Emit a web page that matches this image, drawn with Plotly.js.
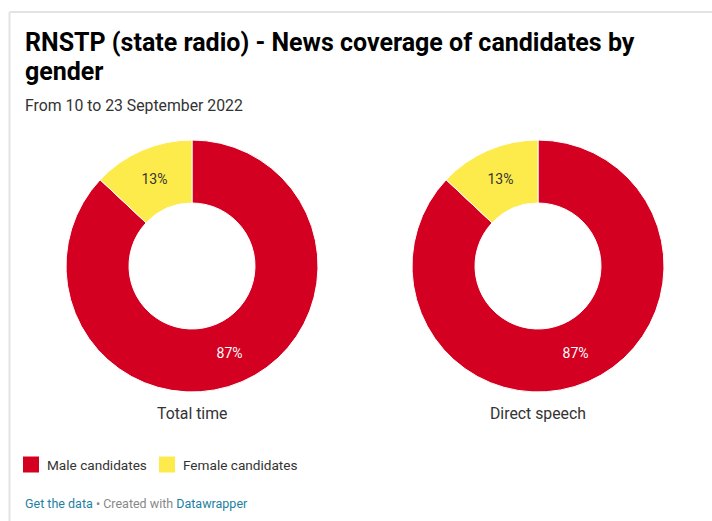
<!DOCTYPE html>
<html>
<head>
<meta charset="utf-8">
<script src="https://cdn.plot.ly/plotly-3.0.1.min.js"></script>
<style>
html,body{margin:0;padding:0;background:#fff;}
#chart{width:712px;height:521px;}
</style>
</head>
<body>
<div id="chart"></div>
<script>
// ---- data ----
var categories = ['Male candidates', 'Female candidates'];
var totalTime = [87, 13];
var directSpeech = [87, 13];
var chartNames = ['Total time', 'Direct speech'];
var titleLines = ['RNSTP (state radio) - News coverage of candidates by', 'gender'];
var subtitle = 'From 10 to 23 September 2022';

// ---- helpers (pixel -> paper) ----
var W = 712, H = 521;
function px(x){ return x / W; }
function py(y){ return 1 - y / H; }

var colors = ['#d40021', '#fdeb4b'];
var textColors = ['#ffffff', '#333333'];

function donut(values, cx, name){
  var r = 126, cy = 266;
  return {
    type: 'pie',
    name: name,
    labels: categories,
    values: values,
    sort: false,
    direction: 'clockwise',
    rotation: 0,
    hole: 0.5,
    marker: {colors: colors, line: {color: '#ffffff', width: 1}},
    textinfo: 'percent',
    texttemplate: '%{percent:.0%}',
    textposition: 'inside',
    insidetextorientation: 'horizontal',
    textfont: {family: 'Roboto, sans-serif', size: 14, color: textColors},
    showlegend: false,
    hoverinfo: 'none',
    domain: {x: [px(cx - r), px(cx + r)], y: [py(cy + r), py(cy - r)]}
  };
}

var data = [
  donut(totalTime, 192, chartNames[0]),
  donut(directSpeech, 538, chartNames[1])
];

var font = 'Roboto, sans-serif';
var annotations = [
  {text: '<b>' + titleLines[0] + '</b>', x: px(23), y: py(42), xanchor: 'left', yanchor: 'middle',
   font: {family: font, size: 25, color: '#000'}},
  {text: '<b>' + titleLines[1] + '</b>', x: px(23), y: py(71), xanchor: 'left', yanchor: 'middle',
   font: {family: font, size: 25, color: '#000'}},
  {text: subtitle, x: px(23), y: py(106), xanchor: 'left', yanchor: 'middle',
   font: {family: font, size: 15.8, color: '#333'}},
  {text: chartNames[0], x: px(192), y: py(413), xanchor: 'center', yanchor: 'middle',
   font: {family: font, size: 15.8, color: '#333'}},
  {text: chartNames[1], x: px(538), y: py(413), xanchor: 'center', yanchor: 'middle',
   font: {family: font, size: 15.8, color: '#333'}},
  {text: '<span style="color:#1d81a2">Get the data</span> • Created with <span style="color:#1d81a2">Datawrapper</span>',
   x: px(23), y: py(503), xanchor: 'left', yanchor: 'middle',
   font: {family: font, size: 12.5, color: '#888'}}
];

// legend drawn from categories / colours
var legendX = [23, 159];
var shapes = [
  {type: 'line', xref: 'paper', yref: 'paper', x0: px(9.5), x1: px(9.5), y0: py(12), y1: 0,
   line: {color: '#e3e3e3', width: 2}},
  {type: 'line', xref: 'paper', yref: 'paper', x0: px(9.5), x1: 1, y0: py(12), y1: py(12),
   line: {color: '#e3e3e3', width: 2}}
];
categories.forEach(function(c, i){
  shapes.push({type: 'rect', xref: 'paper', yref: 'paper',
    x0: px(legendX[i]), x1: px(legendX[i] + 16), y0: py(472.5), y1: py(456.5),
    fillcolor: colors[i], line: {width: 0}});
  annotations.push({text: c, x: px(legendX[i] + 21.5), y: py(465), xanchor: 'left', yanchor: 'middle',
    font: {family: font, size: 13.6, color: '#333'}});
});
annotations.forEach(function(a){ a.xref = 'paper'; a.yref = 'paper'; a.showarrow = false; });

var layout = {
  width: W, height: H,
  margin: {l: 0, r: 0, t: 0, b: 0, pad: 0},
  paper_bgcolor: '#ffffff',
  font: {family: font, color: '#333'},
  showlegend: false,
  annotations: annotations,
  shapes: shapes
};

Plotly.newPlot('chart', data, layout, {displayModeBar: false, staticPlot: true});
</script>
</body>
</html>
